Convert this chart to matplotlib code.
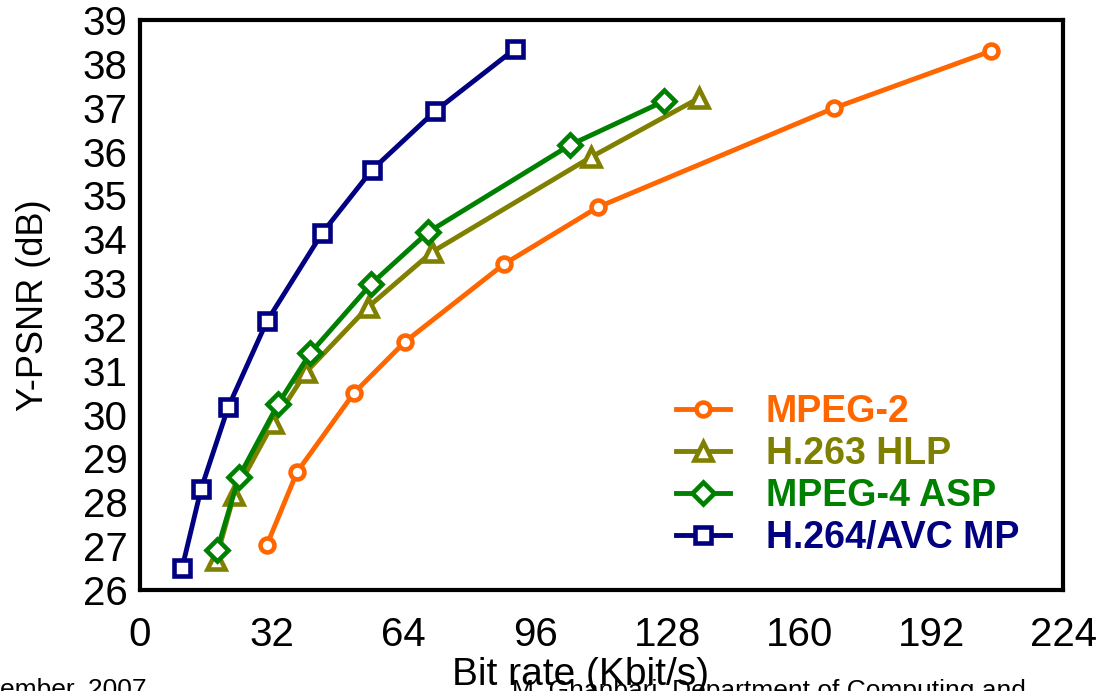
import matplotlib
matplotlib.use("Agg")
import matplotlib.pyplot as plt

plt.rcParams["font.family"] = ["Liberation Sans", "DejaVu Sans"]

# bit rate (Kbit/s) and Y-PSNR (dB)
mpeg2_rate = [30.8, 38.1, 51.9, 64.3, 88.3, 111.1, 168.4, 206.5]
mpeg2_psnr = [27.03, 28.69, 30.49, 31.66, 33.43, 34.73, 36.99, 38.29]

h263_rate = [18.4, 22.8, 32.3, 40.3, 55.3, 70.9, 109.4, 135.7]
h263_psnr = [26.68, 28.17, 29.81, 30.97, 32.45, 33.71, 35.87, 37.22]

mpeg4_rate = [18.7, 24.0, 33.5, 41.3, 56.1, 69.9, 104.4, 127.2]
mpeg4_psnr = [26.91, 28.58, 30.24, 31.40, 32.98, 34.16, 36.15, 37.15]

h264_rate = [10.2, 14.8, 21.4, 30.8, 44.2, 56.3, 71.6, 91.0]
h264_psnr = [26.50, 28.30, 30.17, 32.13, 34.14, 35.58, 36.92, 38.34]

series = [
    ("MPEG-2", mpeg2_rate, mpeg2_psnr, "#FF6600", "o", 10),
    ("H.263 HLP", h263_rate, h263_psnr, "#808000", "^", 12.5),
    ("MPEG-4 ASP", mpeg4_rate, mpeg4_psnr, "#008000", "D", 11),
    ("H.264/AVC MP", h264_rate, h264_psnr, "#000080", "s", 11),
]

x_ticks = [0, 32, 64, 96, 128, 160, 192, 224]
y_ticks = list(range(26, 40))

fig = plt.figure(figsize=(11.01, 6.91), dpi=100)
ax = fig.add_axes([0.1272, 0.1462, 0.9655 - 0.1272, 0.9711 - 0.1462])

for name, xs, ys, color, marker, ms in series:
    ax.plot(xs, ys, color=color, linewidth=3.5, marker=marker, markersize=ms,
            markerfacecolor="white", markeredgecolor=color, markeredgewidth=3.3,
            label=name, clip_on=False)

ax.set_xlim(0, 224)
ax.set_ylim(26, 39)
ax.set_xticks(x_ticks)
ax.set_yticks(y_ticks)
ax.tick_params(length=0, labelsize=29)
ax.tick_params(axis="x", pad=19)
ax.tick_params(axis="y", pad=9)
for side in ax.spines.values():
    side.set_linewidth(3)

ax.set_ylabel("Y-PSNR (dB)", fontsize=26)
ax.yaxis.set_label_coords(-0.097, 0.5)
ax.set_xlabel("Bit rate (Kbit/s)", fontsize=28)
ax.xaxis.set_label_coords(0.477, -0.118)

leg = ax.legend(loc="upper left", bbox_to_anchor=(0.56, 0.377), frameon=False,
                prop={"size": 27, "weight": "bold"}, handlelength=1.45,
                handletextpad=0.95, labelspacing=0.16, borderpad=0)
for text, (_, _, _, color, _, _) in zip(leg.get_texts(), series):
    text.set_color(color)

fig.text(0.0, -0.008, "ember, 2007", fontsize=19, ha="left", va="baseline")
fig.text(512 / 1101, -0.01, "M. Ghanbari, Department of Computing and",
         fontsize=19, ha="left", va="baseline")

fig.savefig("out.png", dpi=100)
